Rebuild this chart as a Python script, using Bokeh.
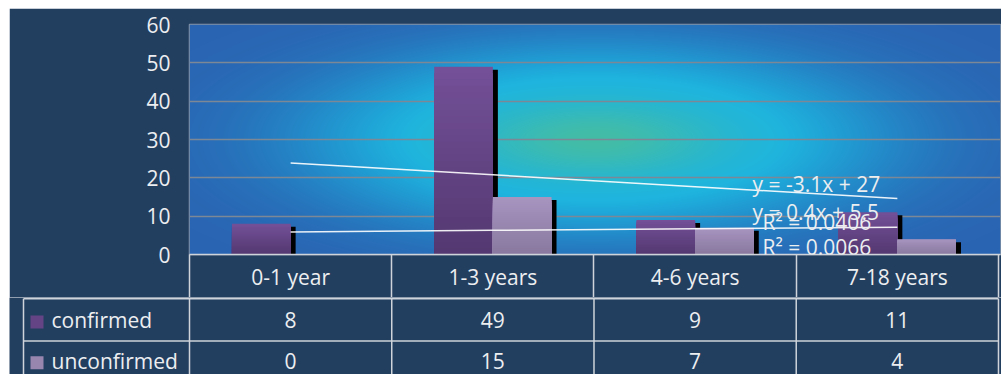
import numpy as np
from bokeh.plotting import figure
from bokeh.models import Range1d, FixedTicker, Label
from bokeh.embed import file_html
from bokeh.resources import INLINE
from bokeh.core.properties import value

# ---------------- data ----------------
categories = ["0-1 year", "1-3 years", "4-6 years", "7-18 years"]
series_names = ["confirmed", "unconfirmed"]
confirmed = [8, 49, 9, 11]
unconfirmed = [0, 15, 7, 4]
y_ticks = [0, 10, 20, 30, 40, 50, 60]

# ---------------- style ----------------
NAVY = "#233f60"
TXT = "#eceef0"
LINE = "#cfd4da"
GRID = "#7d8896"
C_CONF = ((0x74, 0x50, 0x98), (0x53, 0x38, 0x70))   # top, bottom
C_UNC = ((0xa8, 0x94, 0xc0), (0x88, 0x78, 0x9e))
FONT = "Open Sans"
FS = "21px"

n = len(categories)
idx = np.arange(n, dtype=float)
bar_w = 0.29

FW, FH = 811, 230            # frame size of the chart area (px)
x0, x1 = -0.5, n - 0.49
sx = FW / (x1 - x0)           # px per x unit
sy = FH / 60.0                # px per y unit

p = figure(width=992, height=289, x_range=Range1d(x0, x1), y_range=Range1d(0, 60),
           output_backend="svg", toolbar_location=None,
           min_border_left=180, min_border_right=1, min_border_top=16, min_border_bottom=43,
           border_fill_color=NAVY, background_fill_color="#2a64b0",
           outline_line_color="#8794a3", outline_line_width=1.5, margin=(8, 0, 0, 9))

# background glow
W, H = FW, FH
X, Y = np.meshgrid(np.linspace(0, 1, W), np.linspace(0, 1, H))
blue = np.array([42, 100, 178.0])
cyan = np.array([28, 180, 226.0])
green = np.array([72, 190, 160.0])
r2 = ((X - 0.5) / 0.36) ** 2 + ((Y - 0.5) / 0.42) ** 2
t = np.clip(np.exp(-r2 ** 1.5) * 1.3, 0, 1)
g = np.exp(-(((X - 0.5) / 0.15) ** 2 + ((Y - 0.5) / 0.16) ** 2)) * 0.9
col = blue[None, None, :] * (1 - t[..., None]) + cyan[None, None, :] * t[..., None]
col = col * (1 - g[..., None]) + green[None, None, :] * g[..., None]
img = np.empty((H, W), dtype=np.uint32)
view = img.view(dtype=np.uint8).reshape((H, W, 4))
view[..., 0] = col[..., 0].astype(np.uint8)
view[..., 1] = col[..., 1].astype(np.uint8)
view[..., 2] = col[..., 2].astype(np.uint8)
view[..., 3] = 255
p.image_rgba(image=[img], x=x0, y=0, dw=x1 - x0, dh=60, level="image")

# grid & axes
p.xgrid.visible = False
p.ygrid.ticker = FixedTicker(ticks=y_ticks)
p.ygrid.grid_line_color = GRID
p.ygrid.grid_line_width = 1.5

p.yaxis.ticker = FixedTicker(ticks=y_ticks)
p.yaxis.axis_line_color = None
p.yaxis.major_tick_line_color = None
p.yaxis.minor_tick_line_color = None
p.yaxis.major_label_text_color = TXT
p.yaxis.major_label_text_font = FONT
p.yaxis.major_label_text_font_size = FS
p.yaxis.major_label_standoff = 13

p.xaxis.ticker = FixedTicker(ticks=list(idx), minor_ticks=list(idx - 0.5) + [idx[-1] + 0.5])
p.xaxis.major_label_overrides = {i: c for i, c in enumerate(categories)}
p.xaxis.major_tick_out = 0
p.xaxis.major_tick_in = 0
p.xaxis.major_tick_line_color = None
p.xaxis.minor_tick_out = 43
p.xaxis.minor_tick_in = 0
p.xaxis.minor_tick_line_color = LINE
p.xaxis.minor_tick_line_width = 1.5
p.xaxis.axis_line_color = LINE
p.xaxis.axis_line_width = 1.5
p.xaxis.major_label_text_color = TXT
p.xaxis.major_label_text_font = FONT
p.xaxis.major_label_text_font_size = FS
p.xaxis.major_label_standoff = -35

# bars with shadows and vertical gradient (nested bars, tallest/lightest first)
dx = 5 / sx
dy = 3 / sy
NS = 30


def hexc(c):
    return "#%02x%02x%02x" % tuple(int(round(v)) for v in c)


def gradient_bars(xpos, vals, cols):
    top_c, bot_c = np.array(cols[0], float), np.array(cols[1], float)
    xs, tops, fills = [], [], []
    for i in range(NS - 1, -1, -1):
        f = (i + 0.5) / NS
        c = hexc(bot_c * (1 - f) + top_c * f)
        for xp, v in zip(xpos, vals):
            xs.append(xp)
            tops.append(v * (i + 1) / NS)
            fills.append(c)
    p.vbar(x=xs, bottom=0, top=tops, width=bar_w, fill_color=fills, line_color=None)


for off, vals, cols in ((-bar_w / 2, confirmed, C_CONF), (bar_w / 2, unconfirmed, C_UNC)):
    v = np.array(vals, float)
    p.vbar(x=idx + off + dx, top=v - dy, bottom=0, width=bar_w, fill_color="black", line_color=None)
    gradient_bars(idx + off, v, cols)

# linear trend lines (Excel-style, x = 1..n)
xe = np.arange(1, n + 1)
labels = []
for vals in (confirmed, unconfirmed):
    k, b = np.polyfit(xe, vals, 1)
    fit = k * xe + b
    rsq = 1 - np.sum((np.array(vals) - fit) ** 2) / np.sum((np.array(vals) - np.mean(vals)) ** 2)
    p.line(idx, fit, line_color="white", line_width=1.5, line_alpha=0.9)
    sign = "+" if b >= 0 else "-"
    labels.append((f"y = {k:g}x {sign} {abs(b):g}", f"R\u00b2 = {rsq:.4f}"))


def lab(x, y, text):
    p.add_layout(Label(x=x, y=y, text=text, text_color=TXT, text_font=FONT,
                       text_font_size=FS, text_align="left", text_baseline="middle"))


lab(2.284, 18.5, labels[0][0])
lab(2.333, 8.35, labels[0][1])
lab(2.284, 10.96, labels[1][0])
lab(2.333, 1.83, labels[1][1])

# ---------------- data table ----------------
tx0 = x0 - 180 / sx
tx1 = tx0 + 992 / sx
t2 = figure(width=992, height=77, x_range=Range1d(tx0, tx1), y_range=Range1d(1.79, -0.03),
            output_backend="svg", toolbar_location=None, x_axis_location=None, y_axis_location=None,
            min_border=0, min_border_left=0, min_border_right=0, min_border_top=0, min_border_bottom=0,
            background_fill_color=NAVY, border_fill_color=NAVY,
            outline_line_color=None, margin=(0, 0, 0, 9))
t2.xgrid.visible = False
t2.ygrid.visible = False

xl = x0 - 166 / sx
xr = idx[-1] + 0.5
rows = [confirmed, unconfirmed]
t2.segment(x0=[xl] * 2, x1=[xr] * 2, y0=[0, 1], y1=[0, 1], line_color=LINE, line_width=1.5)
vx = [xl] + list(idx - 0.5) + [xr]
t2.segment(x0=vx, x1=vx, y0=[0] * len(vx), y1=[3] * len(vx), line_color=LINE, line_width=1.5)

for r, (name, vals, c) in enumerate(zip(series_names, rows, [C_CONF, C_UNC])):
    ty = r + 0.5 - 0.04 * r
    t2.text(x=list(idx), y=[ty] * n, text=[str(v) for v in vals],
            text_color=TXT, text_font=value(FONT), text_font_size=value(FS),
            text_align="center", text_baseline="middle")
    t2.text(x=[xl + 28 / sx], y=[ty], text=[name],
            text_color=TXT, text_font=value(FONT), text_font_size=value(FS),
            text_align="left", text_baseline="middle")
    mid = (np.array(c[0], float) + np.array(c[1], float)) / 2
    t2.scatter(x=[xl + 13.5 / sx], y=[ty + 0.05], marker="square", size=13,
               fill_color=hexc(mid), line_color=None)

open("out.html", "w").write(file_html([p, t2], INLINE))
